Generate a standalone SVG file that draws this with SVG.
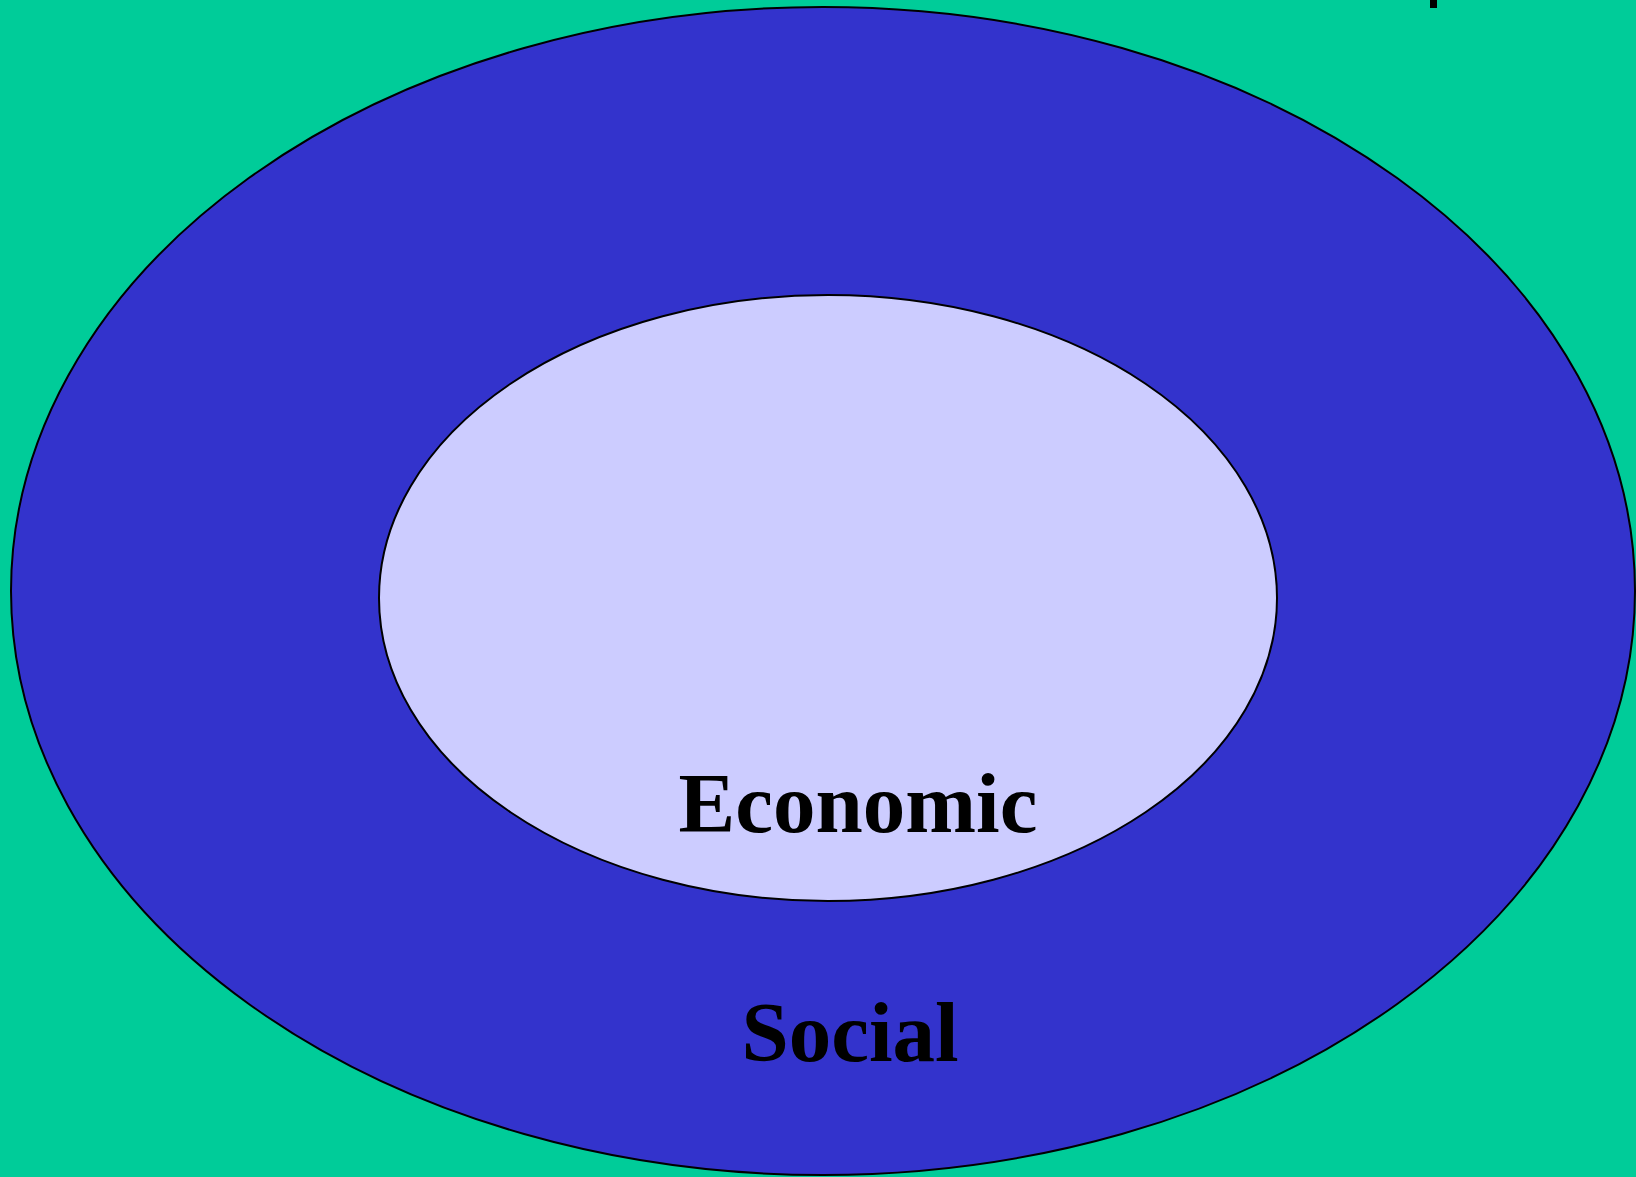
<svg xmlns="http://www.w3.org/2000/svg" width="1636" height="1177" viewBox="0 0 1636 1177">
<style>
.ring{stroke:#000;stroke-width:2}
.lbl{font-family:"Liberation Serif","Times New Roman",serif;font-weight:bold;font-size:85px;fill:#000;text-anchor:middle}
</style>
<rect x="0" y="0" width="1636" height="1177" fill="#00CC99"/>
<rect x="1430" y="0" width="7" height="8" fill="#000"/>
<g id="social">
<ellipse class="ring" cx="823" cy="591" rx="812" ry="584" fill="#3333CC"/>
<text class="lbl" x="850" y="1061">Social</text>
</g>
<g id="economic">
<ellipse class="ring" cx="828" cy="598" rx="449" ry="303" fill="#CCCCFF"/>
<text class="lbl" x="858" y="832">Economic</text>
</g>
<g id="connectors"/>
</svg>
